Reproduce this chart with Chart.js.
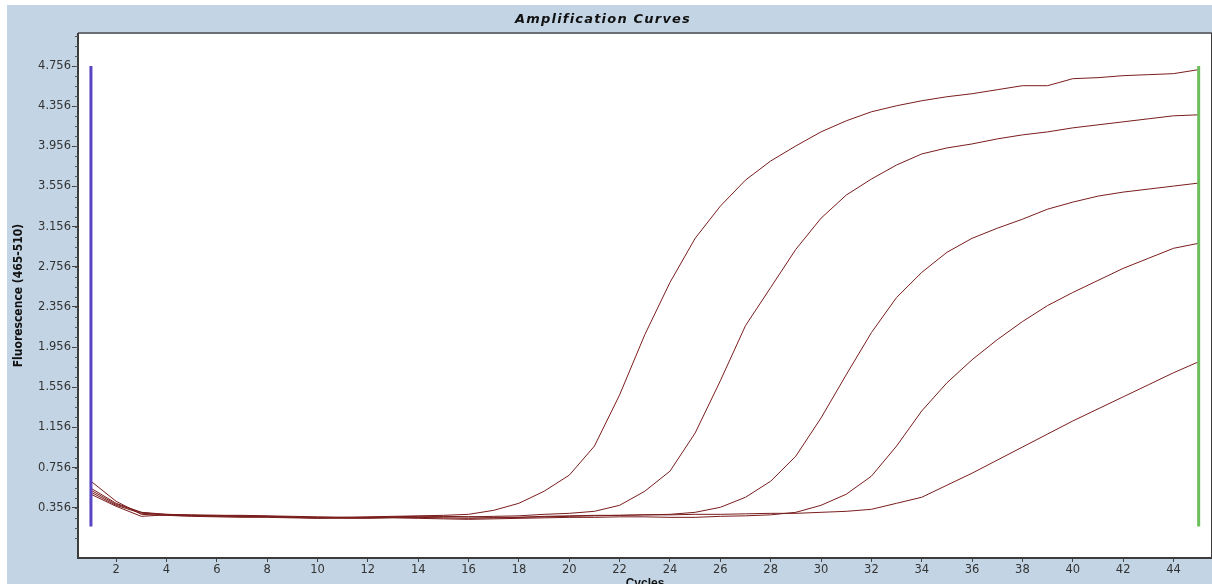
<!DOCTYPE html>
<html>
<head>
<meta charset="utf-8">
<script src="https://cdn.jsdelivr.net/npm/chart.js@4"></script>
<style>
  html, body { margin: 0; padding: 0; background: #fff; }
  #wrap { width: 1212px; height: 584px; }
</style>
</head>
<body>
<div id="wrap"><canvas id="ampChart" width="1212" height="584"></canvas></div>
<script>
// ciclos (eixo x)
const cycles = [1, 2, 3, 4, 5, 6, 7, 8, 9, 10, 11, 12, 13, 14, 15, 16, 17, 18, 19, 20, 21, 22, 23,
  24, 25, 26, 27, 28, 29, 30, 31, 32, 33, 34, 35, 36, 37, 38, 39, 40, 41, 42, 43, 44, 45];

// fluorescencia de cada amostra
const sample1 = [0.55, 0.40, 0.31, 0.28, 0.275, 0.27, 0.27, 0.265, 0.26, 0.255, 0.26, 0.265, 0.27, 0.275, 0.28,
  0.29, 0.33, 0.40, 0.52, 0.68, 0.97, 1.48, 2.08, 2.60, 3.04, 3.36, 3.62, 3.81, 3.96, 4.10,
  4.21, 4.30, 4.36, 4.41, 4.45, 4.48, 4.52, 4.56, 4.56, 4.63, 4.64, 4.66, 4.67, 4.68, 4.72];
const sample2 = [0.62, 0.42, 0.29, 0.28, 0.27, 0.265, 0.26, 0.26, 0.255, 0.25, 0.255, 0.26, 0.26, 0.26, 0.265,
  0.265, 0.27, 0.275, 0.29, 0.30, 0.32, 0.38, 0.52, 0.72, 1.10, 1.62, 2.17, 2.55, 2.93, 3.24,
  3.47, 3.63, 3.77, 3.88, 3.94, 3.98, 4.03, 4.07, 4.10, 4.14, 4.17, 4.20, 4.23, 4.26, 4.27];
const sample3 = [0.51, 0.38, 0.30, 0.29, 0.28, 0.275, 0.27, 0.27, 0.265, 0.26, 0.26, 0.255, 0.26, 0.26, 0.255,
  0.25, 0.255, 0.26, 0.265, 0.27, 0.275, 0.28, 0.285, 0.29, 0.31, 0.36, 0.46, 0.62, 0.87, 1.25,
  1.68, 2.10, 2.45, 2.70, 2.90, 3.04, 3.14, 3.23, 3.33, 3.40, 3.46, 3.50, 3.53, 3.56, 3.59];
const sample4 = [0.49, 0.37, 0.27, 0.285, 0.28, 0.28, 0.275, 0.27, 0.26, 0.255, 0.25, 0.25, 0.255, 0.25, 0.245,
  0.24, 0.245, 0.25, 0.255, 0.26, 0.26, 0.265, 0.265, 0.26, 0.26, 0.27, 0.275, 0.285, 0.31, 0.38,
  0.49, 0.67, 0.97, 1.32, 1.60, 1.83, 2.03, 2.21, 2.37, 2.50, 2.62, 2.74, 2.84, 2.94, 2.99];
const sample5 = [0.53, 0.39, 0.31, 0.29, 0.285, 0.28, 0.28, 0.275, 0.27, 0.265, 0.26, 0.26, 0.265, 0.27, 0.27,
  0.265, 0.26, 0.26, 0.27, 0.275, 0.28, 0.28, 0.285, 0.285, 0.29, 0.29, 0.295, 0.30, 0.30, 0.31,
  0.32, 0.34, 0.40, 0.46, 0.58, 0.70, 0.83, 0.96, 1.09, 1.22, 1.34, 1.46, 1.58, 1.70, 1.81];

// linhas verticais de inicio/fim
const startCycle = [1, 1];
const endCycle = [45, 45];
const markerLevels = [0.17, 4.756];

// ticks
const yTickValues = [0.356, 0.756, 1.156, 1.556, 1.956, 2.356, 2.756, 3.156, 3.556, 3.956, 4.356, 4.756];
const yTickLabels = ['0.356', '0.756', '1.156', '1.556', '1.956', '2.356', '2.756', '3.156', '3.556', '3.956', '4.356', '4.756'];
const xTickValues = [2, 4, 6, 8, 10, 12, 14, 16, 18, 20, 22, 24, 26, 28, 30, 32, 34, 36, 38, 40, 42, 44];

const chartTitle = 'Amplification Curves';
const sampleSeries = [sample1, sample2, sample3, sample4, sample5];

// fundo azul, titulo, area branca e moldura
const backdrop = {
  id: 'backdrop',
  beforeDraw(chart) {
    const { ctx, width, height, chartArea: a } = chart;
    ctx.save();
    ctx.fillStyle = '#ffffff';
    ctx.fillRect(0, 0, width, height);
    ctx.fillStyle = '#c3d5e5';
    ctx.fillRect(7, 5, width - 7, height - 5);
    ctx.fillStyle = '#ffffff';
    ctx.fillRect(a.left, a.top, a.right - a.left, a.bottom - a.top);
    // titulo com espacamento entre letras
    ctx.fillStyle = '#111';
    ctx.font = 'italic bold 13px "DejaVu Sans", Verdana, sans-serif';
    ctx.letterSpacing = '1.2px';
    ctx.textAlign = 'center';
    ctx.textBaseline = 'middle';
    ctx.fillText(chartTitle, 603, 20);
    ctx.restore();
  },
  afterDraw(chart) {
    const { ctx, chartArea: a, scales } = chart;
    ctx.save();
    ctx.lineWidth = 2;
    ctx.strokeStyle = '#6b6f74';
    ctx.beginPath();
    ctx.moveTo(a.left, a.top); ctx.lineTo(a.right, a.top);
    ctx.stroke();
    ctx.strokeStyle = '#3c3c3c';
    ctx.beginPath();
    ctx.moveTo(a.left, a.top); ctx.lineTo(a.left, a.bottom); ctx.lineTo(a.right, a.bottom); ctx.lineTo(a.right, a.top);
    ctx.stroke();
    // ticks menores do eixo y
    const y = scales.y;
    ctx.lineWidth = 1;
    ctx.strokeStyle = '#555';
    for (let v = 0.056; v < y.max; v += 0.1) {
      const py = Math.round(y.getPixelForValue(v)) + 0.5;
      ctx.beginPath();
      ctx.moveTo(a.left - 3, py); ctx.lineTo(a.left, py);
      ctx.stroke();
    }
    ctx.restore();
  }
};

const datasets = [
  {
    data: markerLevels.map((v, i) => ({ x: startCycle[i], y: v })),
    borderColor: '#5944c2', borderWidth: 3, pointRadius: 0
  },
  {
    data: markerLevels.map((v, i) => ({ x: endCycle[i], y: v })),
    borderColor: '#6cbd5c', borderWidth: 3, pointRadius: 0
  }
].concat(sampleSeries.map(s => ({
  data: cycles.map((c, i) => ({ x: c, y: s[i] })),
  borderColor: '#7a1d1d',
  borderWidth: 1,
  pointRadius: 0,
  tension: 0
})));

const tickFont = { family: '"DejaVu Sans", Verdana, sans-serif', size: 11.5 };

new Chart(document.getElementById('ampChart').getContext('2d'), {
  type: 'line',
  data: { datasets },
  options: {
    responsive: false,
    animation: false,
    devicePixelRatio: 1,
    layout: { padding: { top: 33 } },
    plugins: {
      legend: { display: false },
      tooltip: { enabled: false },
      title: { display: false }
    },
    scales: {
      x: {
        type: 'linear',
        min: 0.486,
        max: 45.53,
        afterBuildTicks: s => { s.ticks = xTickValues.map(v => ({ value: v })); },
        afterFit: s => { s.height = 26; },
        border: { display: false },
        grid: { drawOnChartArea: false, tickLength: 4, tickColor: '#444' },
        ticks: {
          autoSkip: false, maxRotation: 0, padding: 1, color: '#333',
          font: tickFont,
          callback: v => String(v)
        },
        title: {
          display: true, text: 'Cycles', color: '#111',
          font: { family: '"Liberation Sans", Arial, sans-serif', size: 12, weight: 'bold' },
          padding: { top: 0, bottom: -7 }
        }
      },
      y: {
        type: 'linear',
        min: -0.145,
        max: 5.085,
        afterBuildTicks: s => { s.ticks = yTickValues.map(v => ({ value: v })); },
        afterFit: s => { s.width = 78; },
        border: { display: false },
        grid: { drawOnChartArea: false, tickLength: 6, tickColor: '#444' },
        ticks: {
          padding: 1, color: '#333',
          font: tickFont,
          callback: (v, i) => yTickLabels[i]
        },
        title: {
          display: true, text: 'Fluorescence (465-510)', color: '#111',
          font: { family: '"Liberation Sans Narrow", "DejaVu Sans Condensed", Arial, sans-serif', size: 12, weight: 'bold' },
          padding: { top: 12, bottom: 0 }
        }
      }
    }
  },
  plugins: [backdrop]
});
</script>
</body>
</html>
